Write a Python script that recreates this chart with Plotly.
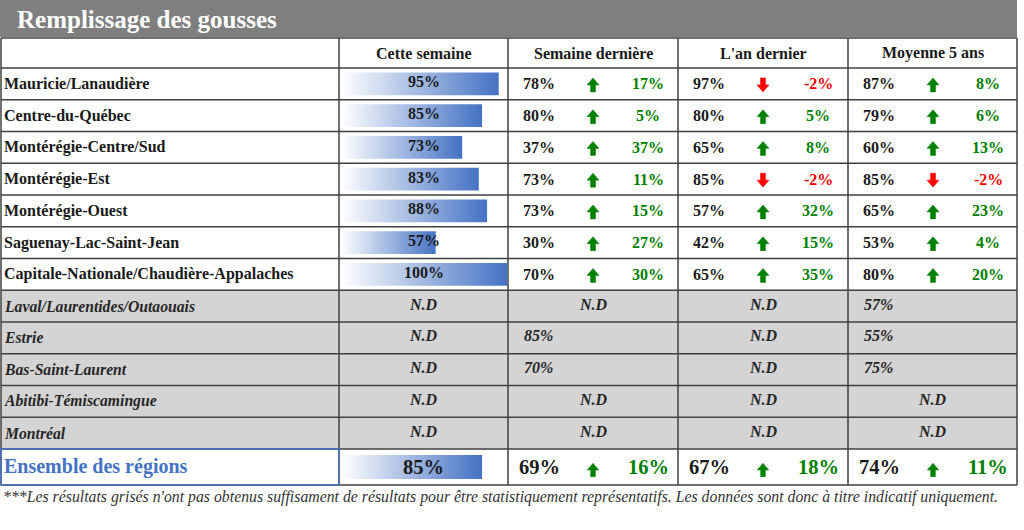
import plotly.graph_objects as go

TITLE = "Remplissage des gousses"
HEADERS = ["", "Cette semaine", "Semaine dernière", "L'an dernier", "Moyenne 5 ans"]

REGIONS = [
    "Mauricie/Lanaudière",
    "Centre-du-Québec",
    "Montérégie-Centre/Sud",
    "Montérégie-Est",
    "Montérégie-Ouest",
    "Saguenay-Lac-Saint-Jean",
    "Capitale-Nationale/Chaudière-Appalaches",
    "Laval/Laurentides/Outaouais",
    "Estrie",
    "Bas-Saint-Laurent",
    "Abitibi-Témiscamingue",
    "Montréal",
]
# rows with too few results are shown greyed
GREYED = [False] * 7 + [True] * 5

THIS_WEEK = [95, 85, 73, 83, 88, 57, 100, None, None, None, None, None]
LAST_WEEK = [78, 80, 37, 73, 73, 30, 70, None, 85, 70, None, None]
LAST_WEEK_DIFF = [17, 5, 37, 11, 15, 27, 30, None, None, None, None, None]
LAST_YEAR = [97, 80, 65, 85, 57, 42, 65, None, None, None, None, None]
LAST_YEAR_DIFF = [-2, 5, 8, -2, 32, 15, 35, None, None, None, None, None]
AVG_5Y = [87, 79, 60, 85, 65, 53, 80, 57, 55, 75, None, None]
AVG_5Y_DIFF = [8, 6, 13, -2, 23, 4, 20, None, None, None, None, None]

TOTAL_LABEL = "Ensemble des régions"
TOTAL_THIS_WEEK = 85
TOTAL_COMPARE = [(69, 16), (67, 18), (74, 11)]

FOOTNOTE = ("***Les résultats grisés n'ont pas obtenus suffisament de résultats pour être "
            "statistiquement représentatifs. Les données sont donc à titre indicatif uniquement.")

W, H = 1024, 530
COLS = [1, 339, 508, 678, 848, 1017]
TITLE_BOT = 37
HEAD_TOP, HEAD_BOT = 38, 68
ROW_H = 31.75
TOTAL_H = 36
SERIF = "Liberation Serif"
BLUE = "#4472C4"
GREEN = "#008000"
RED = "#FF0000"
GRID = "#404040"
GREY_FILL = "#D4D4D4"
TEXT = "#1a1a1a"
GREY_TEXT = "#262626"


def row_top(i):
    return HEAD_BOT + i * ROW_H


def text(fig, x, y, s, size, color=TEXT, anchor="left"):
    fig.add_annotation(x=x, y=y, xref="x", yref="y", text=s, showarrow=False,
                       xanchor=anchor, yanchor="middle",
                       font=dict(family=SERIF, size=size, color=color))


def arrow(fig, cx, cy, up, s=1.0):
    d = -1 if up else 1
    pts = [(cx, cy + 7 * s * d), (cx + 6 * s, cy), (cx + 2.5 * s, cy), (cx + 2.5 * s, cy - 7 * s * d),
           (cx - 2.5 * s, cy - 7 * s * d), (cx - 2.5 * s, cy), (cx - 6 * s, cy)]
    path = "M " + " L ".join(f"{x},{y}" for x, y in pts) + " Z"
    color = GREEN if up else RED
    fig.add_shape(type="path", path=path, xref="x", yref="y",
                  fillcolor=color, line=dict(color=color, width=0.5))


def bar(fig, value, top, bot):
    fig.add_trace(go.Scatter(
        x=[0, value, value, 0, 0], y=[top, top, bot, bot, top],
        xaxis="x2", yaxis="y", mode="lines", fill="toself",
        fillgradient=dict(type="horizontal", colorscale=[[0, "#FFFFFF"], [1, BLUE]]),
        line=dict(width=0), hoverinfo="skip", showlegend=False,
    ))


def pct(v):
    return f"{v}%"


def compare_cell(fig, c, cy, value, diff, size=16):
    x0 = COLS[c]
    text(fig, x0 + 13, cy, f"<b>{pct(value)}</b>", size)
    up = diff >= 0
    arrow(fig, x0 + 85, cy + 1, up)
    text(fig, x0 + 140, cy, f"<b>{pct(diff)}</b>", size, GREEN if up else RED, "center")


def main():
    fig = go.Figure()
    n = len(REGIONS)
    total_top = row_top(n)
    total_bot = total_top + TOTAL_H

    # title band
    fig.add_shape(type="rect", x0=0, x1=COLS[-1], y0=0, y1=TITLE_BOT,
                  fillcolor="#7F7F7F", line=dict(width=0), layer="below")
    text(fig, 15, 19, f"<b>{TITLE}</b>", 25, "#FFFFFF")

    # greyed rows background
    for i in range(n):
        if GREYED[i]:
            fig.add_shape(type="rect", x0=COLS[0], x1=COLS[-1], y0=row_top(i), y1=row_top(i + 1),
                          fillcolor=GREY_FILL, line=dict(width=0), layer="below")

    # grid
    ys = [HEAD_TOP] + [row_top(i) for i in range(n + 1)] + [total_bot]
    for y in ys:
        fig.add_shape(type="line", x0=COLS[0], x1=COLS[-1], y0=y, y1=y,
                      line=dict(color=GRID, width=1.5))
    for x in COLS:
        fig.add_shape(type="line", x0=x, x1=x, y0=HEAD_TOP, y1=total_bot,
                      line=dict(color=GRID, width=1.5))
    fig.add_shape(type="rect", x0=COLS[0], x1=COLS[1], y0=total_top, y1=total_bot,
                  line=dict(color=BLUE, width=1.5))

    # header
    for c in range(1, 5):
        text(fig, (COLS[c] + COLS[c + 1]) / 2, (HEAD_TOP + HEAD_BOT) / 2,
             f"<b>{HEADERS[c]}</b>", 16, anchor="center")

    # regions
    mid1 = (COLS[1] + COLS[2]) / 2
    compare = [(LAST_WEEK, LAST_WEEK_DIFF), (LAST_YEAR, LAST_YEAR_DIFF), (AVG_5Y, AVG_5Y_DIFF)]
    for i, name in enumerate(REGIONS):
        top = row_top(i)
        cy = top + ROW_H / 2
        if not GREYED[i]:
            text(fig, 2, cy, f"<b>{name}</b>", 16)
            bar(fig, THIS_WEEK[i], top + 4.5, top + ROW_H - 4.5)
            text(fig, mid1, cy - 2, f"<b>{pct(THIS_WEEK[i])}</b>", 16, anchor="center")
            for k, (vals, diffs) in enumerate(compare):
                compare_cell(fig, k + 2, cy, vals[i], diffs[i])
        else:
            text(fig, 2, cy, f"<b><i>{name}</i></b>", 15.7, GREY_TEXT)
            text(fig, mid1, cy - 2, "<b><i>N.D</i></b>", 16, GREY_TEXT, "center")
            for k, (vals, _) in enumerate(compare):
                c = k + 2
                if vals[i] is None:
                    text(fig, (COLS[c] + COLS[c + 1]) / 2, cy - 2, "<b><i>N.D</i></b>", 16,
                         GREY_TEXT, "center")
                else:
                    text(fig, COLS[c] + 14, cy - 2, f"<b><i>{pct(vals[i])}</i></b>", 16, GREY_TEXT)

    # total row
    cy = (total_top + total_bot) / 2
    text(fig, 2, cy - 1, f"<b>{TOTAL_LABEL}</b>", 20, BLUE)
    bar(fig, TOTAL_THIS_WEEK, total_top + 6, total_bot - 6)
    text(fig, mid1, cy, f"<b>{pct(TOTAL_THIS_WEEK)}</b>", 20.5, anchor="center")
    for k, (v, d) in enumerate(TOTAL_COMPARE):
        c = k + 2
        x0 = COLS[c]
        text(fig, x0 + 9, cy, f"<b>{pct(v)}</b>", 20.5)
        arrow(fig, x0 + 85, cy + 3, d >= 0, 0.95)
        text(fig, x0 + 140, cy, f"<b>{pct(d)}</b>", 20.5, GREEN if d >= 0 else RED, "center")

    # footnote
    text(fig, 1, 497, f"<i>{FOOTNOTE}</i>", 15.8, "#333333")

    fig.update_layout(
        width=W, height=H, margin=dict(l=0, r=0, t=0, b=0),
        paper_bgcolor="white", plot_bgcolor="rgba(0,0,0,0)",
        xaxis=dict(range=[0, W], visible=False, fixedrange=True),
        yaxis=dict(range=[H, 0], visible=False, fixedrange=True),
        xaxis2=dict(domain=[341 / W, 507 / W], range=[0, 100], anchor="y",
                    visible=False, fixedrange=True),
        showlegend=False,
    )
    # page body margin would push the figure off the window edge
    fig.write_html("out.html", config={"displayModeBar": False},
                   post_script="document.body.style.margin='0';")


if __name__ == "__main__":
    main()
